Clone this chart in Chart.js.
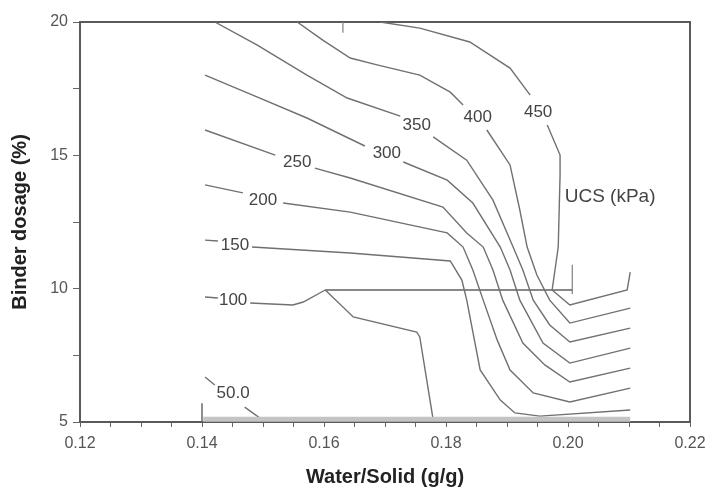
<!DOCTYPE html>
<html>
<head>
<meta charset="utf-8">
<script src="https://cdn.jsdelivr.net/npm/chart.js@4"></script>
<style>
  body { margin: 0; background: #fff; }
  #wrap { width: 713px; height: 491px; position: relative; }
</style>
</head>
<body>
<div id="wrap"><canvas id="contourChart"></canvas></div>
<script>
// contour lines (null y = gap where the level label sits)
const c450X = [0.1692, 0.1757, 0.1839, 0.1905, 0.1938, 0.1951, 0.1966, 0.1987, 0.1987, 0.1984, 0.1974, 0.2003, 0.2097, 0.2102];
const c450Y = [20.0, 19.77, 19.25, 18.27, 17.26, null, 16.14, 15.01, 14.26, 11.56, 9.95, 9.39, 9.95, 10.62];

const c400X = [0.1556, 0.1598, 0.1643, 0.1687, 0.1757, 0.1807, 0.1828, 0.1852, 0.1867, 0.1905, 0.1921, 0.1933, 0.1949, 0.1970, 0.2003, 0.2102];
const c400Y = [20.0, 19.32, 18.65, 18.39, 18.01, 17.37, 16.89, null, 15.95, 14.64, 12.95, 11.56, 10.51, 9.57, 8.71, 9.27];

const c350X = [0.1421, 0.1490, 0.1572, 0.1638, 0.1725, 0.1752, 0.1779, 0.1834, 0.1877, 0.1910, 0.1926, 0.1943, 0.1970, 0.2003, 0.2102];
const c350Y = [20.0, 19.14, 18.01, 17.15, 16.47, null, 15.69, 14.82, 13.32, 11.56, 10.70, 9.57, 8.64, 8.00, 8.52];

const c300X = [0.1405, 0.1490, 0.1572, 0.1667, 0.1703, 0.1730, 0.1802, 0.1844, 0.1889, 0.1905, 0.1921, 0.1959, 0.2003, 0.2102];
const c300Y = [18.01, 17.19, 16.40, 15.35, null, 14.75, 14.07, 13.21, 11.56, 10.70, 9.57, 7.96, 7.21, 7.77];

const c250X = [0.1405, 0.1520, 0.1556, 0.1585, 0.1643, 0.1795, 0.1834, 0.1861, 0.1877, 0.1893, 0.1926, 0.1962, 0.2003, 0.2102];
const c250Y = [15.95, 15.01, null, 14.52, 14.15, 13.06, 12.09, 11.56, 10.70, 9.57, 7.96, 7.14, 6.50, 7.02];

const c200X = [0.1405, 0.1467, 0.1500, 0.1533, 0.1643, 0.1802, 0.1828, 0.1844, 0.1861, 0.1884, 0.1905, 0.1943, 0.2003, 0.2102];
const c200Y = [13.89, 13.59, null, 13.21, 12.87, 12.09, 11.56, 10.70, 9.57, 8.07, 6.95, 6.09, 5.75, 6.27];

const c150X = [0.1405, 0.1426, 0.1454, 0.1482, 0.1643, 0.1807, 0.1826, 0.1834, 0.1856, 0.1889, 0.1913, 0.1954, 0.2102];
const c150Y = [11.82, 11.79, null, 11.56, 11.34, 11.04, 10.32, 9.57, 6.95, 5.82, 5.34, 5.22, 5.45];

const c100X = [0.1405, 0.1426, 0.1451, 0.1479, 0.1549, 0.1566, 0.1602];
const c100Y = [9.69, 9.65, null, 9.46, 9.39, 9.50, 9.95];
const c100bX = [0.1602, 0.1648, 0.1752, 0.1757, 0.1779];
const c100bY = [9.95, 8.94, 8.37, 8.19, 5.08];

const c50X = [0.1405, 0.1421, 0.1451, 0.1470, 0.1495, 0.1561];
const c50Y = [6.69, 6.39, null, 5.56, 5.15, 5.07];

// stray segments in the original plot
const hLineX = [0.1602, 0.2007];
const hLineY = [9.95, 9.95];
const bandX = [0.1402, 0.2102];
const bandY = [5.1, 5.1];
const mark1X = [0.14, 0.14], mark1Y = [5.7, 5.0];
const mark2X = [0.1631, 0.1631], mark2Y = [20.0, 19.6];
const mark3X = [0.2007, 0.2007], mark3Y = [10.9, 9.8];

// level labels
const labelText = ["450", "400", "350", "300", "250", "200", "150", "100", "50.0", "UCS (kPa)"];
const labelX = [0.1951, 0.1852, 0.1752, 0.1703, 0.1556, 0.1500, 0.1454, 0.1451, 0.1451, 0.2069];
const labelY = [16.62, 16.44, 16.14, 15.09, 14.75, 13.32, 11.64, 9.57, 6.09, 13.44];

// axis tick labels
const xTickLabels = ["0.12", "0.14", "0.16", "0.18", "0.20", "0.22"];
const yTickLabels = ["5", "10", "15", "20"];

const LINE = "#707070";

function pts(xs, ys) {
  return xs.map((x, i) => ({ x, y: ys[i] }));
}

function lineSet(xs, ys, color = LINE, width = 1.4) {
  return {
    data: pts(xs, ys),
    showLine: true,
    borderColor: color,
    borderWidth: width,
    pointRadius: 0,
    tension: 0,
    spanGaps: false
  };
}

const levelLabels = {
  id: "levelLabels",
  afterDatasetsDraw(chart) {
    const { ctx, scales: { x, y } } = chart;
    ctx.save();
    ctx.fillStyle = "#444";
    ctx.textAlign = "center";
    ctx.textBaseline = "middle";
    labelText.forEach((t, i) => {
      ctx.font = t.startsWith("UCS") ? "19px 'Liberation Sans', Arial" : "17px 'Liberation Sans', Arial";
      ctx.fillText(t, x.getPixelForValue(labelX[i]), y.getPixelForValue(labelY[i]));
    });
    ctx.restore();
  }
};

Chart.defaults.font.family = "'Liberation Sans', Arial, sans-serif";

new Chart(document.getElementById("contourChart"), {
  type: "scatter",
  data: {
    datasets: [
      lineSet(bandX, bandY, "#c4c4c4", 5),
      lineSet(c450X, c450Y),
      lineSet(c400X, c400Y),
      lineSet(c350X, c350Y),
      lineSet(c300X, c300Y),
      lineSet(c250X, c250Y),
      lineSet(c200X, c200Y),
      lineSet(c150X, c150Y),
      lineSet(c100X, c100Y),
      lineSet(c100bX, c100bY),
      lineSet(c50X, c50Y),
      lineSet(hLineX, hLineY, "#606060", 1.6),
      lineSet(mark1X, mark1Y, "#606060", 1.4),
      lineSet(mark2X, mark2Y, "#808080", 1.2),
      lineSet(mark3X, mark3Y, "#808080", 1.2)
    ]
  },
  options: {
    responsive: true,
    maintainAspectRatio: false,
    animation: false,
    layout: { padding: { top: 22, right: 23, left: 0, bottom: 0 } },
    plugins: {
      legend: { display: false },
      tooltip: { enabled: false }
    },
    scales: {
      x: {
        type: "linear",
        position: "bottom",
        min: 0.12,
        max: 0.22,
        afterFit: s => { s.height = 69; },
        border: { color: "#5a5a5a", width: 2 },
        grid: { drawOnChartArea: false, tickLength: 5, color: "#666" },
        ticks: {
          stepSize: 0.005,
          padding: 7,
          color: "#555",
          font: { size: 16 },
          autoSkip: false,
          maxRotation: 0,
          callback: v => {
            const s = v.toFixed(2);
            return Math.abs(v - Number(s)) < 1e-6 && xTickLabels.includes(s) ? s : "";
          }
        },
        title: {
          display: true,
          text: "Water/Solid (g/g)",
          color: "#222",
          font: { size: 20, weight: "bold" },
          padding: { top: 0, bottom: 2 }
        }
      },
      y: {
        type: "linear",
        position: "left",
        min: 5,
        max: 20,
        afterFit: s => { s.width = 80; },
        border: { color: "#5a5a5a", width: 2 },
        grid: { drawOnChartArea: false, tickLength: 7, color: "#666" },
        ticks: {
          stepSize: 2.5,
          padding: 5,
          color: "#555",
          font: { size: 16 },
          autoSkip: false,
          callback: v => (yTickLabels.includes(String(v)) ? String(v) : "")
        },
        title: {
          display: true,
          text: "Binder dosage (%)",
          color: "#222",
          font: { size: 20, weight: "bold" },
          padding: { top: 8, bottom: 0 }
        }
      },
      xTop: {
        type: "linear",
        position: "top",
        min: 0.12,
        max: 0.22,
        afterFit: s => { s.height = 0; },
        border: { color: "#5a5a5a", width: 2 },
        grid: { drawOnChartArea: false, drawTicks: false },
        ticks: { display: false }
      },
      yRight: {
        type: "linear",
        position: "right",
        min: 5,
        max: 20,
        afterFit: s => { s.width = 0; },
        border: { color: "#5a5a5a", width: 2 },
        grid: { drawOnChartArea: false, drawTicks: false },
        ticks: { display: false }
      }
    }
  },
  plugins: [levelLabels]
});
</script>
</body>
</html>
